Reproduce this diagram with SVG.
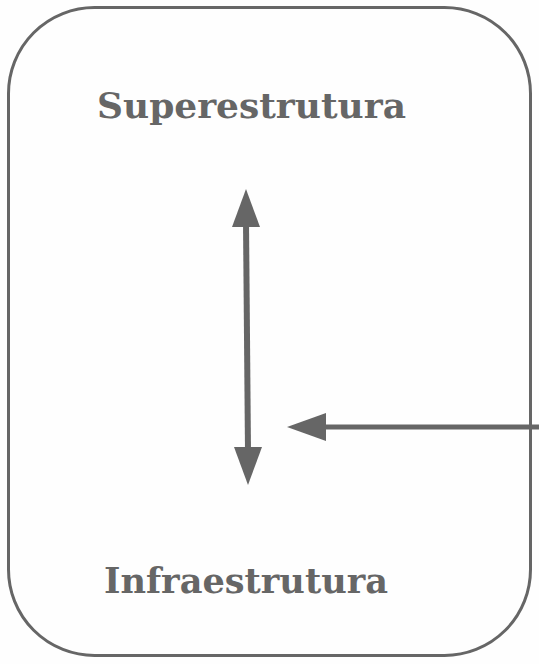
<svg xmlns="http://www.w3.org/2000/svg" width="539" height="664" viewBox="0 0 539 664">
<style>
.lbl{font-family:"DejaVu Serif","Liberation Serif",serif;font-weight:bold;font-size:36px;fill:#666666}
.ln{stroke:#666666;fill:none}
.hd{fill:#666666}
</style>
<rect width="539" height="664" fill="#fefefe"/>
<g id="box">
<rect x="8.5" y="7.5" width="522" height="648" rx="86" ry="86" class="ln" stroke-width="3"/>
</g>
<g id="superestrutura">
<text x="97" y="118" class="lbl" textLength="309" lengthAdjust="spacingAndGlyphs">Superestrutura</text>
</g>
<g id="infraestrutura">
<text x="104" y="593" class="lbl" textLength="284" lengthAdjust="spacingAndGlyphs">Infraestrutura</text>
</g>
<g id="connectors">
<line x1="246" y1="222" x2="248" y2="452" class="ln" stroke-width="6"/>
<polygon points="246,189 260,227 232,227" class="hd"/>
<polygon points="248,485 234,447 262,447" class="hd"/>
<line x1="320" y1="427" x2="539" y2="427" class="ln" stroke-width="5"/>
<polygon points="287,427 326,413 326,441" class="hd"/>
</g>
</svg>
